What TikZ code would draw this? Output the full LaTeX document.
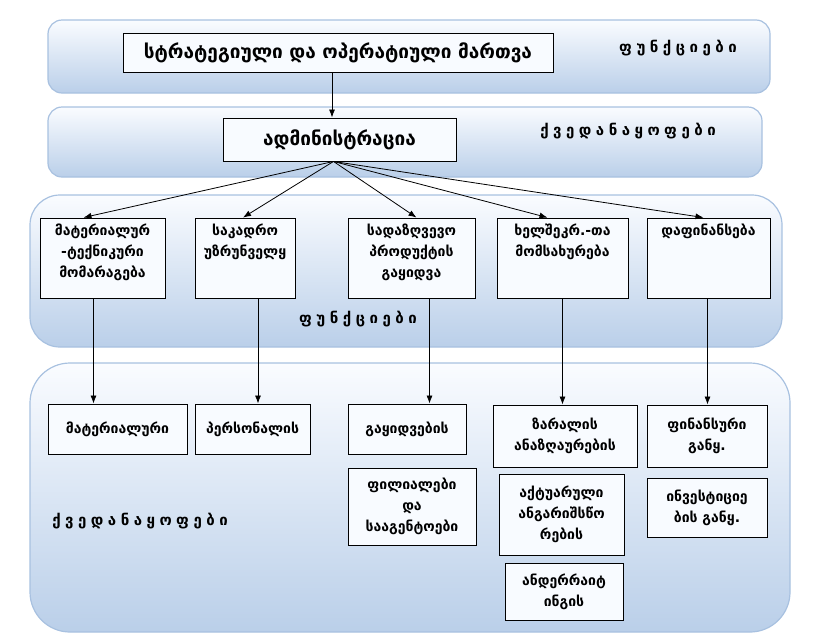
\documentclass[tikz,border=0pt]{standalone}
\usepackage{fontspec}
\newfontfamily\geo{DejaVu Sans}
\usetikzlibrary{arrows.meta}

\definecolor{bandtop}{RGB}{250,252,255}
\definecolor{bandbot}{RGB}{186,207,233}
\definecolor{bandline}{RGB}{168,193,224}
\definecolor{boxfill}{RGB}{248,251,255}

\newcommand\toptext[2]{\parbox[c][68pt][t]{#1}{\centering #2}}

\begin{document}
\begin{tikzpicture}
        [
            x = 1pt, y = -1pt,
            band/.style = {draw = bandline, line width = 1.2pt, rounded corners = #1,
                           top color = bandtop, bottom color = bandbot},
            box/.style = {draw, line width = 0.9pt, fill = boxfill, align = center, inner sep = 0pt,
                          font = \geo\bfseries\fontsize{14}{21}\selectfont},
            bigbox/.style = {box, font = \geo\bfseries\fontsize{19}{22}\selectfont},
            label/.style = {font = \geo\bfseries\fontsize{15}{18}\selectfont\addfontfeature{LetterSpace=30}},
            arr/.style = {-{Latex[length=8pt, width=6pt]}, line width = 0.8pt}
        ]
            \useasboundingbox (0,0) rectangle (818,635);
            % bands
            \path [band = 14pt] (48,20) rectangle (770,93);
            \path [band = 14pt] (48,107) rectangle (762,177);
            \path [band = 30pt] (30,195) rectangle (782,347);
            \path [band = 40pt] (30,363) rectangle (790,632);
            \node [label] (lfunc1) at (678,48) {ფუნქციები};
            \node [label] (lunit1) at (628,131) {ქვედანაყოფები};
            \node [label] (lfunc2) at (358,319) {ფუნქციები};
            \node [label] (lunit2) at (140,521) {ქვედანაყოფები};
            % management
            \node [bigbox, minimum width = 430pt, minimum height = 39pt] (mgmt) at (338,52.5)
                {სტრატეგიული და ოპერატიული მართვა};
            \node [bigbox, minimum width = 233pt, minimum height = 43pt] (adm) at (339.5,139.5)
                {ადმინისტრაცია};
            % functions
            \node [box, minimum width = 125pt, minimum height = 80pt] (fmat) at (102.5,258)
                {\toptext{122pt}{მატერიალურ\\-ტექნიკური\\მომარაგება}};
            \node [box, minimum width = 100pt, minimum height = 80pt] (fpers) at (245,258)
                {\toptext{98pt}{საკადრო\\უზრუნველყ}};
            \node [box, minimum width = 127pt, minimum height = 80pt] (fsale) at (411.5,258)
                {\toptext{124pt}{სადაზღვევო\\პროდუქტის\\გაყიდვა}};
            \node [box, minimum width = 131pt, minimum height = 80pt] (fserv) at (562.5,258)
                {\toptext{128pt}{ხელშეკრ.-თა\\მომსახურება}};
            \node [box, minimum width = 123pt, minimum height = 80pt] (ffin) at (708.5,258)
                {\toptext{120pt}{დაფინანსება}};
            % units
            \node [box, minimum width = 139pt, minimum height = 50pt] (umat) at (117.5,429)
                {მატერიალური};
            \node [box, minimum width = 115pt, minimum height = 50pt] (upers) at (252.5,429)
                {პერსონალის};
            \node [box, minimum width = 118pt, minimum height = 50pt] (usale) at (407,429)
                {გაყიდვების};
            \node [box, minimum width = 144pt, minimum height = 62pt] (uclaim) at (565,436)
                {ზარალის\\ანაზღაურების};
            \node [box, minimum width = 120pt, minimum height = 62pt] (ufin) at (707,436)
                {ფინანსური\\განყ.};
            \node [box, minimum width = 128pt, minimum height = 77pt] (ubranch) at (412,506.5)
                {ფილიალები\\და\\სააგენტოები};
            \node [box, minimum width = 125pt, minimum height = 81pt] (uact) at (561.5,514.5)
                {აქტუარული\\ანგარიშსწო\\რების};
            \node [box, minimum width = 120pt, minimum height = 59pt] (uinv) at (707,507.5)
                {ინვესტიციე\\ბის განყ.};
            \node [box, minimum width = 118pt, minimum height = 57pt] (uunder) at (564,591.5)
                {ანდერრაიტ\\ინგის};
            % connectors
            \draw [arr] ([xshift=-6pt]mgmt.south) -- ([xshift=-7.5pt]adm.north);
            \coordinate (hub) at ([xshift=-6pt]adm.south);
            \draw [arr] (hub) -- ([xshift=-19pt]fmat.north);
            \draw [arr] (hub) -- ([xshift=-2pt]fpers.north);
            \draw [arr] (hub) -- ([xshift=5pt]fsale.north);
            \draw [arr] (hub) -- ([xshift=-15pt]fserv.north);
            \draw [arr] (hub) -- ([xshift=-5pt]ffin.north);
            \draw [arr] ([xshift=-9pt]fmat.south) -- ([xshift=-9pt]fmat.south |- umat.north);
            \draw [arr] ([xshift=13pt]fpers.south) -- ([xshift=13pt]fpers.south |- upers.north);
            \draw [arr] ([xshift=18pt]fsale.south) -- ([xshift=18pt]fsale.south |- usale.north);
            \draw [arr] (fserv.south) -- (fserv.south |- uclaim.north);
            \draw [arr] ([xshift=-1pt]ffin.south) -- ([xshift=-1pt]ffin.south |- ufin.north);
        \end{tikzpicture}
\end{document}
